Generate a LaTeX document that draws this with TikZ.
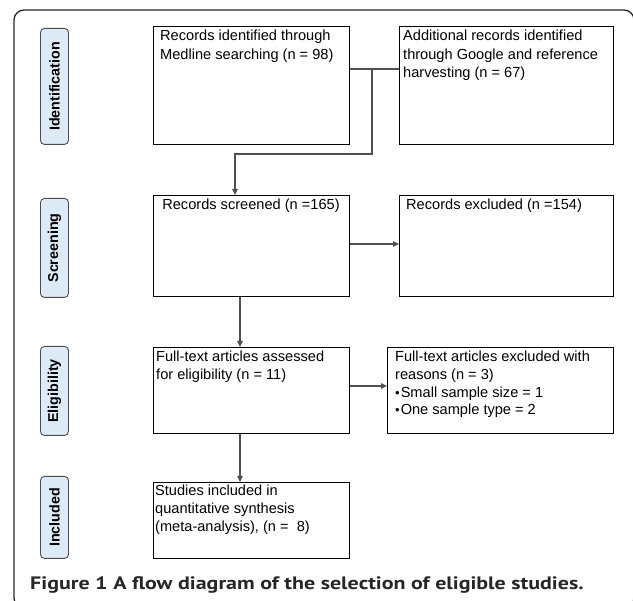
\documentclass[tikz,border=0pt]{standalone}
\usepackage{fontspec}
\setmainfont{Liberation Sans}
\newfontfamily\boxfont{Liberation Sans}
\newfontfamily\capfont{PT Sans}[FakeStretch=1.22]
\usetikzlibrary{arrows.meta}
\definecolor{labelblue}{HTML}{DDEBF7}
\definecolor{conngray}{HTML}{505050}
\newcommand{\smallbul}{{\fontsize{13pt}{13pt}\selectfont\textbullet}\hspace{1pt}}
\begin{document}
\begin{tikzpicture}[x=1pt,y=-1pt,
  box/.style={draw=black,line width=1.1pt,anchor=north west,inner sep=0pt},
  lbl/.style={draw=black!70,fill=labelblue,rounded corners=4pt,line width=0.9pt,anchor=north west,inner sep=0pt,minimum width=28pt},
  lbltext/.style={rotate=90,inner sep=0pt,font=\bfseries\fontsize{14.3pt}{16pt}\selectfont},
  txt/.style={anchor=north west,inner sep=0pt,align=left,font=\boxfont\fontsize{14.6pt}{17.7pt}\selectfont},
  txtb/.style={txt,font=\boxfont\fontsize{14.6pt}{18.3pt}\selectfont},
  conn/.style={draw=conngray,line width=1.1pt},
  arr/.style={conn,-{Triangle[length=6pt,width=5.5pt]}}
]
\useasboundingbox (0,0) rectangle (633,601);
% outer frame
\draw[line width=1.3pt,black!85,rounded corners=10pt] (14,10) rectangle (634,608);

% stage labels
\node[lbl,minimum height=116pt] (l1) at (40,28) {};
\node[lbltext] (lt1) at (l1.center) {Identification};
\node[lbl,minimum height=99pt] (l2) at (40,198) {};
\node[lbltext] (lt2) at (l2.center) {Screening};
\node[lbl,minimum height=89pt] (l3) at (40,346) {};
\node[lbltext] (lt3) at (l3.center) {Eligibility};
\node[lbl,minimum height=82pt] (l4) at (40,476) {};
\node[lbltext] (lt4) at (l4.center) {Included};

% boxes
\node[box,minimum width=196pt,minimum height=118pt] (b1) at (153,26) {};
\node[box,minimum width=214pt,minimum height=118pt] (b2) at (399,26) {};
\node[box,minimum width=196pt,minimum height=101pt] (b3) at (153,195) {};
\node[box,minimum width=214pt,minimum height=101pt] (b4) at (399,195) {};
\node[box,minimum width=196pt,minimum height=86pt] (b5) at (153,347) {};
\node[box,minimum width=226pt,minimum height=86pt] (b6) at (387,347) {};
\node[box,minimum width=196pt,minimum height=76pt] (b7) at (153,482) {};

% texts
\node[txtb] (t1) at (160,30) {Records identified through\\Medline searching (n = 98)};
\node[txtb] (t2) at (403,30) {Additional records identified\\through Google and reference\\harvesting (n = 67)};
\node[txt,anchor=north] (t3) at (251,199) {Records screened (n =165)};
\node[txt] (t4) at (406,199) {Records excluded (n =154)};
\node[txt] (t5) at (156,351) {Full-text articles assessed\\for eligibility (n = 11)};
\node[txt] (t6) at (395,351) {Full-text articles excluded with\\reasons (n = 3)\\\smallbul Small sample size = 1\\\smallbul One sample type = 2};
\node[txt] (t7) at (155,485) {Studies included in\\quantitative synthesis\\(meta-analysis), (n =\ \ 8)};

% connectors
\coordinate (j) at (372,69);
\coordinate (k) at (235,154);
\draw[conn] (b1.east |- j) -- (b2.west |- j);
\draw[arr] (j) |- (k) -- (k |- b3.north);
\coordinate (s) at (0,244);
\draw[arr] (b3.east |- s) -- (b4.west |- s);
\coordinate (m) at (240,0);
\draw[arr] (b3.south -| m) -- (b5.north -| m);
\coordinate (n) at (0,386);
\draw[arr] (b5.east |- n) -- (b6.west |- n);
\draw[arr] (b5.south -| m) -- (b7.north -| m);

% caption
\node[anchor=base west,inner sep=0pt,text=black!85,font=\capfont\bfseries\fontsize{18pt}{20pt}\selectfont] (cap) at (30,590) {Figure 1 A flow diagram of the selection of eligible studies.};
\end{tikzpicture}
\end{document}
